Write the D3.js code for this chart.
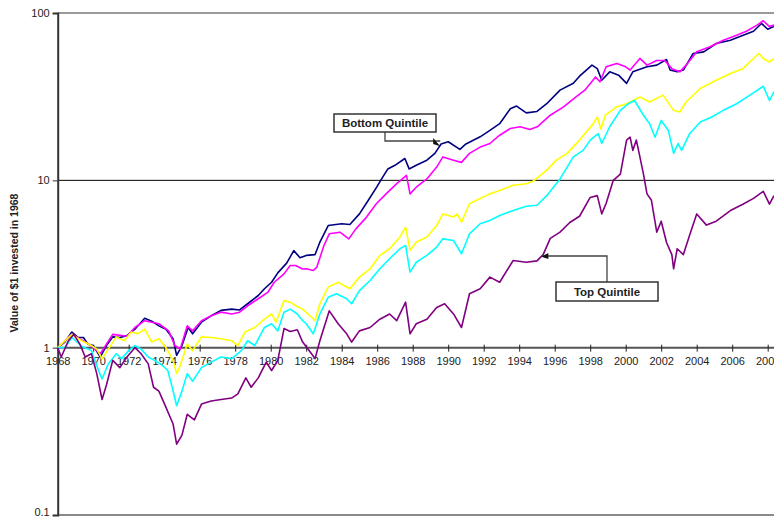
<!DOCTYPE html>
<html>
<head>
<meta charset="utf-8">
<script src="https://cdn.jsdelivr.net/npm/d3@7"></script>
<style>
  body { margin: 0; background: #fff; }
  svg { display: block; font-family: Arial, "Liberation Sans", sans-serif; }
</style>
</head>
<body>
<div id="chart"></div>
<script>
const width = 774;
const height = 519;

// --------------------
// data: [year, value of $1]
// --------------------
const bottomQuintile = [
  [1968.0, 1.00], [1968.4, 1.08], [1968.8, 1.24], [1969.15, 1.15], [1969.45, 1.15], [1969.7, 1.05],
  [1970.0, 1.03], [1970.4, 0.88], [1970.75, 1.03], [1971.1, 1.16], [1971.5, 1.15], [1971.9, 1.18],
  [1972.35, 1.29], [1972.9, 1.50], [1973.3, 1.44], [1973.7, 1.35], [1974.1, 1.29], [1974.5, 1.13],
  [1974.7, 0.90], [1975.0, 1.03], [1975.35, 1.32], [1975.6, 1.21], [1976.1, 1.42], [1976.65, 1.55],
  [1977.2, 1.67], [1977.8, 1.70], [1978.25, 1.68], [1978.7, 1.83], [1979.3, 2.05], [1979.65, 2.25],
  [1980.05, 2.46], [1980.4, 2.80], [1980.9, 3.20], [1981.3, 3.80], [1981.65, 3.45], [1982.0, 3.56],
  [1982.5, 3.60], [1982.77, 4.27], [1983.24, 5.37], [1984.0, 5.50], [1984.46, 5.45], [1985.0, 6.30],
  [1985.5, 7.60], [1985.97, 9.10], [1986.25, 10.2], [1986.6, 11.7], [1987.0, 12.3], [1987.56, 13.5],
  [1987.8, 11.7], [1988.2, 12.3], [1988.8, 13.2], [1989.25, 14.5], [1989.6, 16.5], [1990.0, 17.0],
  [1990.66, 15.3], [1991.0, 16.5], [1991.8, 18.2], [1992.35, 19.9], [1992.9, 21.8], [1993.5, 26.8],
  [1993.85, 27.8], [1994.4, 25.3], [1995.0, 25.8], [1995.55, 28.7], [1996.3, 34.6], [1997.05, 38.0],
  [1997.4, 41.9], [1998.1, 48.8], [1998.4, 46.5], [1998.65, 39.6], [1999.1, 44.5], [1999.6, 42.5],
  [2000.05, 38.0], [2000.4, 44.5], [2001.2, 47.7], [2001.75, 48.8], [2002.3, 52.7], [2002.5, 45.6],
  [2002.9, 44.5], [2003.25, 45.6], [2003.8, 57.3], [2004.4, 58.6], [2005.1, 65.7], [2005.9, 68.8],
  [2006.4, 72.0], [2007.2, 77.8], [2007.65, 86.6], [2008.0, 80.0], [2008.35, 83.0]
];

const quintile2 = [
  [1968.0, 1.00], [1968.8, 1.20], [1969.7, 1.06], [1970.4, 0.92], [1971.1, 1.20], [1971.9, 1.17],
  [1972.35, 1.32], [1972.9, 1.45], [1973.7, 1.39], [1974.25, 1.26], [1974.6, 1.03], [1974.9, 0.98],
  [1975.3, 1.35], [1975.6, 1.26], [1976.1, 1.45], [1976.65, 1.55], [1977.2, 1.63], [1977.8, 1.59],
  [1978.25, 1.63], [1978.7, 1.78], [1979.3, 1.96], [1979.85, 2.15], [1980.2, 2.46], [1980.75, 2.76],
  [1981.1, 3.10], [1981.4, 3.10], [1981.8, 2.95], [1982.0, 2.96], [1982.4, 2.89], [1982.6, 3.03],
  [1983.0, 4.08], [1983.3, 4.79], [1983.9, 4.90], [1984.4, 4.47], [1984.8, 5.13], [1985.4, 6.03],
  [1985.95, 7.25], [1986.5, 8.30], [1987.1, 9.55], [1987.65, 10.7], [1987.85, 8.30], [1988.2, 9.10],
  [1988.8, 10.2], [1989.35, 12.0], [1989.7, 13.8], [1990.3, 13.2], [1990.75, 12.8], [1991.2, 14.5],
  [1991.8, 15.8], [1992.35, 16.6], [1992.9, 18.6], [1993.5, 20.4], [1994.05, 20.9], [1994.6, 20.1],
  [1995.05, 21.0], [1995.75, 24.5], [1996.5, 27.5], [1997.2, 31.5], [1997.7, 34.6], [1998.3, 41.5],
  [1998.55, 38.8], [1998.9, 47.7], [1999.5, 49.9], [2000.0, 47.7], [2000.25, 45.6], [2000.8, 53.5],
  [2001.2, 48.8], [2001.75, 52.0], [2002.2, 52.0], [2002.6, 46.5], [2003.05, 44.5], [2003.4, 48.8],
  [2004.0, 58.6], [2004.75, 62.9], [2005.5, 68.8], [2006.25, 73.7], [2006.8, 77.8], [2007.4, 84.7],
  [2007.75, 89.9], [2008.1, 83.0], [2008.35, 84.7]
];

const quintile3 = [
  [1968.0, 1.00], [1968.8, 1.20], [1969.35, 1.10], [1969.9, 1.03], [1970.2, 0.98], [1970.5, 0.86],
  [1970.85, 0.98], [1971.3, 1.16], [1971.75, 1.10], [1972.15, 1.24], [1972.5, 1.21], [1972.9, 1.29],
  [1973.3, 1.08], [1973.7, 1.13], [1974.1, 1.00], [1974.5, 0.84], [1974.7, 0.70], [1974.9, 0.78],
  [1975.3, 1.05], [1975.6, 0.96], [1976.1, 1.16], [1976.65, 1.15], [1977.2, 1.13], [1977.8, 1.10],
  [1978.15, 1.03], [1978.55, 1.24], [1979.1, 1.32], [1979.65, 1.48], [1980.05, 1.59], [1980.3, 1.42],
  [1980.75, 1.91], [1981.1, 1.87], [1981.5, 1.76], [1981.8, 1.70], [1982.3, 1.52], [1982.5, 1.45],
  [1982.77, 1.83], [1983.24, 2.30], [1983.8, 2.46], [1984.46, 2.25], [1985.0, 2.64], [1985.6, 2.96],
  [1986.15, 3.56], [1986.7, 3.90], [1987.28, 4.58], [1987.6, 5.25], [1987.85, 3.81], [1988.2, 4.27],
  [1988.8, 4.58], [1989.35, 5.37], [1989.7, 6.30], [1990.3, 6.03], [1990.5, 6.30], [1990.75, 5.63],
  [1991.2, 7.25], [1991.8, 7.78], [1992.35, 8.30], [1992.9, 8.70], [1993.66, 9.34], [1994.4, 9.55],
  [1994.8, 9.90], [1995.55, 11.5], [1996.1, 13.2], [1996.7, 14.5], [1997.4, 17.4], [1998.1, 21.3],
  [1998.4, 23.9], [1998.6, 20.3], [1998.85, 24.5], [1999.5, 27.5], [2000.05, 28.7], [2000.8, 31.5],
  [2001.35, 29.4], [2002.1, 32.3], [2002.7, 26.2], [2003.05, 25.6], [2003.4, 29.4], [2004.2, 35.4],
  [2005.1, 39.6], [2005.9, 43.5], [2006.6, 46.5], [2007.5, 57.3], [2007.75, 53.5], [2008.1, 51.0],
  [2008.35, 53.5]
];

const quintile4 = [
  [1968.0, 1.00], [1968.4, 1.00], [1968.8, 1.15], [1969.35, 1.02], [1969.9, 0.96], [1970.3, 0.73],
  [1970.5, 0.65], [1970.85, 0.80], [1971.3, 0.92], [1971.6, 0.86], [1972.0, 0.96], [1972.35, 1.03],
  [1972.7, 0.98], [1973.1, 0.88], [1973.45, 0.84], [1973.8, 0.80], [1974.2, 0.73], [1974.45, 0.58],
  [1974.7, 0.45], [1975.0, 0.55], [1975.3, 0.70], [1975.6, 0.63], [1976.1, 0.76], [1976.65, 0.82],
  [1977.2, 0.88], [1977.8, 0.86], [1978.35, 0.96], [1978.7, 1.10], [1979.1, 1.03], [1979.65, 1.32],
  [1980.05, 1.39], [1980.4, 1.26], [1980.75, 1.63], [1981.1, 1.70], [1981.5, 1.59], [1981.8, 1.45],
  [1982.0, 1.39], [1982.4, 1.21], [1982.77, 1.59], [1983.24, 2.00], [1983.7, 2.10], [1984.28, 1.96],
  [1984.56, 1.83], [1985.0, 2.19], [1985.6, 2.52], [1986.15, 2.96], [1986.7, 3.40], [1987.28, 3.90],
  [1987.6, 4.08], [1987.85, 2.83], [1988.2, 3.24], [1988.8, 3.56], [1989.35, 3.99], [1989.7, 4.47],
  [1990.3, 4.37], [1990.75, 3.64], [1991.2, 4.79], [1991.8, 5.50], [1992.35, 5.76], [1992.9, 6.17],
  [1993.66, 6.60], [1994.4, 7.00], [1995.0, 7.10], [1995.55, 8.10], [1996.3, 10.2], [1997.05, 13.8],
  [1997.6, 15.1], [1998.0, 17.4], [1998.45, 19.0], [1998.65, 16.6], [1999.1, 20.9], [1999.7, 26.2],
  [2000.15, 28.7], [2000.5, 30.0], [2001.0, 24.5], [2001.35, 21.8], [2001.65, 18.1], [2002.0, 22.8],
  [2002.4, 19.9], [2002.7, 14.5], [2002.95, 16.6], [2003.15, 15.1], [2003.6, 19.0], [2004.2, 22.3],
  [2004.85, 23.9], [2005.5, 26.2], [2006.25, 28.7], [2007.0, 32.3], [2007.75, 36.5], [2008.1, 30.0],
  [2008.35, 33.8]
];

const topQuintile = [
  [1968.0, 1.00], [1968.2, 0.88], [1968.6, 1.10], [1968.9, 1.20], [1969.25, 1.05], [1969.55, 0.88],
  [1969.9, 0.92], [1970.2, 0.70], [1970.5, 0.49], [1970.75, 0.60], [1971.1, 0.84], [1971.5, 0.76],
  [1971.9, 0.88], [1972.35, 1.00], [1972.7, 0.92], [1973.1, 0.80], [1973.4, 0.58], [1973.7, 0.55],
  [1974.1, 0.44], [1974.5, 0.35], [1974.7, 0.265], [1975.0, 0.30], [1975.3, 0.40], [1975.7, 0.37],
  [1976.1, 0.46], [1976.65, 0.48], [1977.2, 0.49], [1977.8, 0.50], [1978.15, 0.53], [1978.6, 0.66],
  [1978.9, 0.58], [1979.3, 0.66], [1979.75, 0.82], [1980.05, 0.73], [1980.4, 0.84], [1980.75, 1.30],
  [1981.1, 1.25], [1981.5, 1.28], [1981.8, 1.08], [1982.3, 0.92], [1982.5, 0.86], [1982.77, 1.10],
  [1983.3, 1.66], [1983.8, 1.39], [1984.28, 1.21], [1984.56, 1.08], [1985.0, 1.26], [1985.6, 1.32],
  [1986.15, 1.48], [1986.7, 1.59], [1987.1, 1.45], [1987.6, 1.87], [1987.85, 1.21], [1988.2, 1.39],
  [1988.8, 1.48], [1989.35, 1.74], [1989.8, 1.83], [1990.3, 1.59], [1990.75, 1.32], [1991.2, 2.10],
  [1991.8, 2.25], [1992.35, 2.64], [1992.9, 2.46], [1993.66, 3.32], [1994.4, 3.24], [1995.0, 3.30],
  [1995.35, 3.60], [1995.75, 4.50], [1996.3, 4.90], [1996.85, 5.60], [1997.4, 6.10], [1998.0, 7.90],
  [1998.4, 8.10], [1998.65, 6.30], [1998.9, 7.30], [1999.3, 10.0], [1999.7, 10.9], [2000.05, 17.4],
  [2000.25, 18.1], [2000.4, 15.1], [2000.6, 17.4], [2000.8, 13.8], [2001.0, 10.9], [2001.2, 8.30],
  [2001.45, 7.60], [2001.75, 4.90], [2002.0, 5.70], [2002.3, 4.25], [2002.6, 3.60], [2002.7, 2.96],
  [2002.9, 3.90], [2003.25, 3.60], [2003.6, 4.70], [2004.0, 6.30], [2004.55, 5.40], [2005.1, 5.70],
  [2005.9, 6.60], [2006.6, 7.20], [2007.2, 7.80], [2007.75, 8.60], [2008.1, 7.20], [2008.35, 8.10]
];

const xTicks = d3.range(1968, 2010, 2);
const yTicks = [0.1, 1, 10, 100];

const series = [
  { name: "Bottom Quintile", data: bottomQuintile, color: "#000080" },
  { name: "Quintile 2", data: quintile2, color: "#ff00ff" },
  { name: "Quintile 3", data: quintile3, color: "#ffff00" },
  { name: "Quintile 4", data: quintile4, color: "#00ffff" },
  { name: "Top Quintile", data: topQuintile, color: "#800080" }
];

// callouts: label box + point on the line the arrow hits
const callouts = [
  { label: "Bottom Quintile", box: [334, 114, 102, 18], elbow: [385, 141], target: [1989.55, 16.0] },
  { label: "Top Quintile", box: [556, 282, 102, 19], elbow: [607, 256], target: [1995.25, 3.5] }
];

// --------------------
// scales
// --------------------
const x = d3.scaleLinear().domain([1968, 2008]).range([57.7, 767.7]);
const y = d3.scaleLog().domain([0.1, 100]).range([515, 13]);

const svg = d3.select("#chart").append("svg")
  .attr("width", width)
  .attr("height", height);

// gridlines
svg.append("line")
  .attr("x1", x(1968)).attr("x2", width)
  .attr("y1", y(100)).attr("y2", y(100))
  .attr("stroke", "#9a9a9a").attr("stroke-width", 2);
svg.append("line")
  .attr("x1", x(1968)).attr("x2", width)
  .attr("y1", y(10)).attr("y2", y(10))
  .attr("stroke", "#000").attr("stroke-width", 1);
svg.append("line")
  .attr("x1", x(1968)).attr("x2", width)
  .attr("y1", y(0.1)).attr("y2", y(0.1))
  .attr("stroke", "#8a8a8a").attr("stroke-width", 2);

// y axis
const gy = svg.append("g")
  .attr("transform", `translate(${x(1968)},0)`)
  .call(d3.axisLeft(y).tickValues(yTicks).tickFormat(d => String(d)).tickSize(5).tickPadding(3));
gy.select(".domain").attr("stroke", "#333").attr("stroke-width", 2);
gy.selectAll(".tick line").attr("stroke", "#333");
gy.selectAll(".tick text")
  .attr("font-size", 11)
  .attr("font-family", "Arial, 'Liberation Sans', sans-serif")
  .attr("fill", "#222");
// keep the bottom label inside the frame
gy.selectAll(".tick text").filter(d => d === 0.1).attr("dy", "0.05em");

// x axis crossing at 1
const gx = svg.append("g")
  .attr("transform", `translate(0,${y(1)})`)
  .call(d3.axisBottom(x).tickValues(xTicks).tickFormat(d3.format("d")).tickSizeOuter(0).tickSize(4).tickPadding(6));
gx.select(".domain").attr("stroke", "#555").attr("stroke-width", 2)
  .attr("d", `M${x(1968)},0H${width}`);
gx.selectAll(".tick line").attr("stroke", "#222").attr("y1", -3);
gx.selectAll(".tick text")
  .attr("font-size", 11)
  .attr("font-family", "Arial, 'Liberation Sans', sans-serif")
  .attr("fill", "#222");

// lines
const line = d3.line()
  .x(d => x(d[0]))
  .y(d => y(d[1]));

svg.append("g")
  .selectAll("path")
  .data(series)
  .join("path")
  .attr("d", d => line(d.data))
  .attr("fill", "none")
  .attr("stroke", d => d.color)
  .attr("stroke-width", 1.6)
  .attr("stroke-linejoin", "round");

// y label
svg.append("text")
  .attr("transform", "translate(18,263) rotate(-90)")
  .attr("text-anchor", "middle")
  .attr("font-size", 10.5)
  .attr("font-weight", 700)
  .attr("fill", "#222")
  .text("Value of $1 invested in 1968");

// callouts
callouts.forEach(c => {
  const [bx, by, bw, bh] = c.box;
  const tx = x(c.target[0]);
  const ty = y(c.target[1]);
  const g = svg.append("g");
  const leaderStart = c.elbow[1] > by ? [c.elbow[0], by + bh] : [c.elbow[0], by];
  g.append("path")
    .attr("d", `M${leaderStart[0]},${leaderStart[1]}V${c.elbow[1]}H${tx}`)
    .attr("fill", "none")
    .attr("stroke", "#444")
    .attr("stroke-width", 1.3);
  const dir = tx > c.elbow[0] ? 1 : -1;
  g.append("path")
    .attr("d", `M${tx},${ty}L${tx - dir * 7},${c.elbow[1] - 3}L${tx - dir * 7},${c.elbow[1] + 3}Z`)
    .attr("fill", "#111");
  g.append("rect")
    .attr("x", bx).attr("y", by)
    .attr("width", bw).attr("height", bh)
    .attr("fill", "#fff")
    .attr("stroke", "#333")
    .attr("stroke-width", 1.5);
  g.append("text")
    .attr("x", bx + bw / 2)
    .attr("y", by + bh / 2 + 4)
    .attr("text-anchor", "middle")
    .attr("font-size", 11.5)
    .attr("font-weight", 700)
    .attr("fill", "#222")
    .text(c.label);
});
</script>
</body>
</html>
